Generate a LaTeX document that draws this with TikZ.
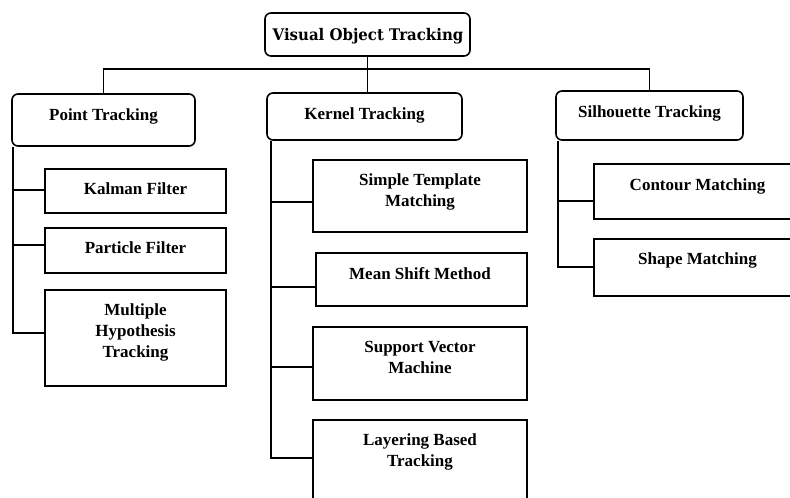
\documentclass[tikz,border=0pt]{standalone}
\usepackage{fontspec}
\setmainfont{Liberation Serif}
\newfontfamily\rootfont{DejaVu Serif}
\begin{document}
\begin{tikzpicture}[x=1pt,y=-1pt,
  cat/.style={draw, line width=1.6pt, rounded corners=6pt, inner sep=0pt},
  leaf/.style={draw, line width=1.6pt, inner sep=0pt},
  lbl/.style={anchor=base, inner sep=0pt, font=\bfseries\fontsize{17}{21}\selectfont},
  rootlbl/.style={anchor=base, inner sep=0pt, font=\rootfont\bfseries\fontsize{16}{19}\selectfont},
  link/.style={line width=1.6pt}]
\useasboundingbox (0,0) rectangle (790,498);
\clip (0,0) rectangle (790,498);

% root and the three families
\node[cat, minimum width=205pt, minimum height=43pt] (top) at (367.5,34.5) {};
\node[rootlbl, xscale=0.935] (top-t) at (368,40) {Visual Object Tracking};

\node[cat, minimum width=183pt, minimum height=52pt] (pt) at (103.5,120) {};
\node[lbl] (pt-t) at (103.5,120.5) {Point Tracking};

\node[cat, minimum width=195pt, minimum height=47pt] (kern) at (364.5,116.5) {};
\node[lbl] (kern-t) at (364.5,119) {Kernel Tracking};

\node[cat, minimum width=187pt, minimum height=49pt] (sil) at (649.5,115.5) {};
\node[lbl] (sil-t) at (649.5,117) {Silhouette Tracking};

% point tracking methods
\node[leaf, minimum width=181pt, minimum height=44pt] (kf) at (135.5,191) {};
\node[lbl] (kf-t) at (135.5,194) {Kalman Filter};
\node[leaf, minimum width=181pt, minimum height=45pt] (pf) at (135.5,250.5) {};
\node[lbl] (pf-t) at (135.5,253) {Particle Filter};
\node[leaf, minimum width=181pt, minimum height=96pt] (mht) at (135.5,338) {};
\node[lbl] (mht-t) at (135.5,315) {\begin{tabular}[t]{@{}c@{}}Multiple\\Hypothesis\\Tracking\end{tabular}};

% kernel tracking methods
\node[leaf, minimum width=214pt, minimum height=72pt] (stm) at (420,196) {};
\node[lbl] (stm-t) at (420,185) {\begin{tabular}[t]{@{}c@{}}Simple Template\\Matching\end{tabular}};
\node[leaf, minimum width=211pt, minimum height=53pt] (msm) at (421.5,279.5) {};
\node[lbl] (msm-t) at (420,279) {Mean Shift Method};
\node[leaf, minimum width=214pt, minimum height=73pt] (svm) at (420,363.5) {};
\node[lbl] (svm-t) at (420,352) {\begin{tabular}[t]{@{}c@{}}Support Vector\\Machine\end{tabular}};
\node[leaf, minimum width=214pt, minimum height=100pt] (lbt) at (420,470) {};
\node[lbl] (lbt-t) at (420,445) {\begin{tabular}[t]{@{}c@{}}Layering Based\\Tracking\end{tabular}};

% silhouette tracking methods
\node[leaf, minimum width=207pt, minimum height=55pt] (cm) at (697.5,191.5) {};
\node[lbl] (cm-t) at (697.5,190) {Contour Matching};
\node[leaf, minimum width=207pt, minimum height=57pt] (sm) at (697.5,267.5) {};
\node[lbl] (sm-t) at (697.5,264) {Shape Matching};

% root to families
\coordinate (bus) at (0,69);
\draw[link] (top.south) -- (top.south |- kern.north);
\draw[link] (pt.north) -- (pt.north |- bus) -- (sil.north |- bus) -- (sil.north);

% trunks and branches
\coordinate (ptT) at ([xshift=2pt]pt.south west);
\draw[link] (ptT) |- ([yshift=5pt]mht.west);
\draw[link] ([yshift=1pt]kf.west) -- ([yshift=1pt]kf.west -| ptT);
\draw[link] ([yshift=5.5pt]pf.west) -- ([yshift=5.5pt]pf.west -| ptT);

\coordinate (kernT) at ([xshift=5pt]kern.south west);
\draw[link] (kernT) |- ([yshift=12pt]lbt.west);
\draw[link] ([yshift=-6pt]stm.west) -- ([yshift=-6pt]stm.west -| kernT);
\draw[link] ([yshift=-7.5pt]msm.west) -- ([yshift=-7.5pt]msm.west -| kernT);
\draw[link] ([yshift=-3.5pt]svm.west) -- ([yshift=-3.5pt]svm.west -| kernT);

\coordinate (silT) at ([xshift=3pt]sil.south west);
\draw[link] (silT) |- ([yshift=0.5pt]sm.west);
\draw[link] ([yshift=-9.5pt]cm.west) -- ([yshift=-9.5pt]cm.west -| silT);
\end{tikzpicture}
\end{document}
